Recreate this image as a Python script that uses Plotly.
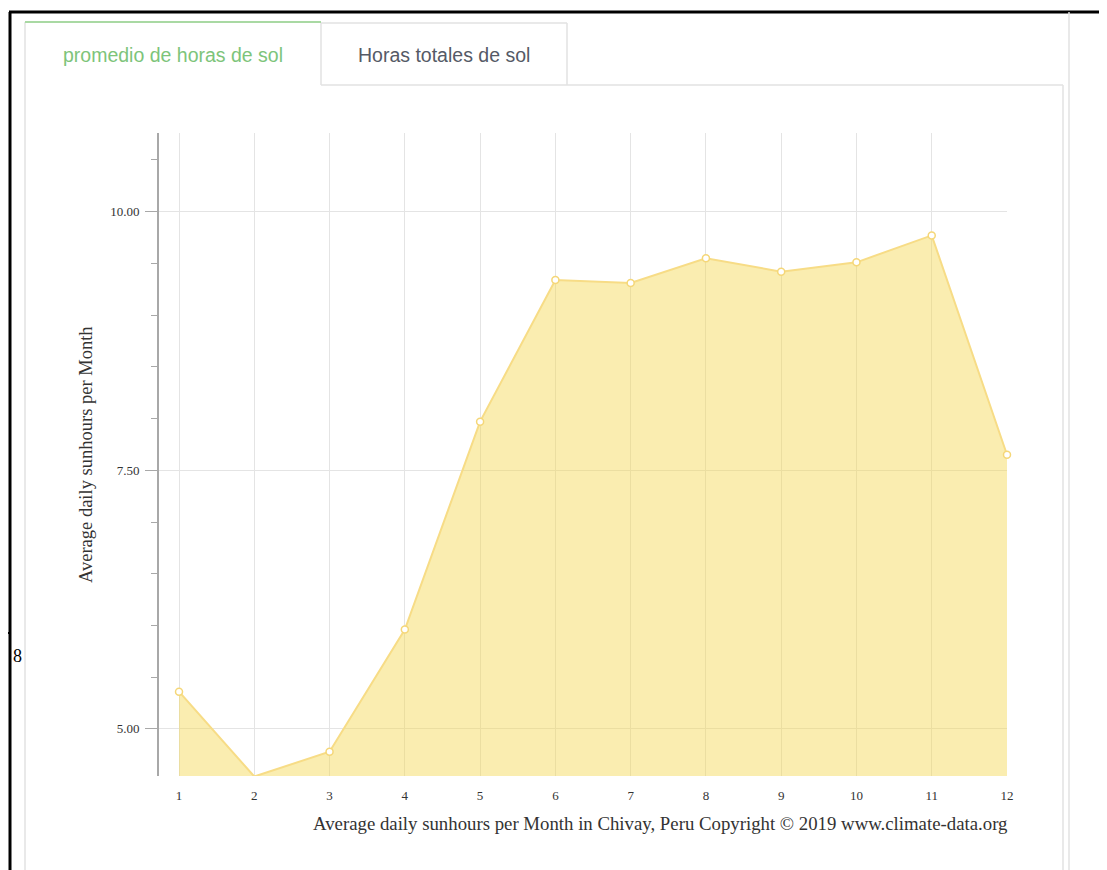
import plotly.graph_objects as go

months = [1, 2, 3, 4, 5, 6, 7, 8, 9, 10, 11, 12]
sunhours = [5.36, 4.54, 4.78, 5.96, 7.97, 9.34, 9.31, 9.55, 9.42, 9.51, 9.77, 7.65]
ytick_vals = [5.0, 7.5, 10.0]
ytick_text = ["5.00", "7.50", "10.00"]
tab_labels = ["promedio de horas de sol", "Horas totales de sol"]
y_title = "Average daily sunhours per Month"
x_title = "Average daily sunhours per Month in Chivay, Peru Copyright © 2019 www.climate-data.org"

OFF = 8  # page body margin
W, H = 1107 - OFF, 870 - OFF
L, R, T, B = 159 - OFF, 1007 - OFF, 133 - OFF, 776 - OFF


def px(x):
    return (x - OFF - L) / (R - L)


def py(y):
    return (B - (y - OFF)) / (B - T)


fig = go.Figure()
fig.add_trace(go.Scatter(
    x=months, y=sunhours, mode="lines+markers",
    fill="tozeroy", fillcolor="rgba(245,215,80,0.45)",
    line=dict(color="#f7dc86", width=2),
    marker=dict(size=7, color="white", line=dict(color="#f5d778", width=1.5)),
    hoverinfo="skip", showlegend=False, cliponaxis=False,
))

serif = "Liberation Serif, DejaVu Serif, serif"
fig.update_layout(
    width=W, height=H,
    margin=dict(l=L, r=W - R, t=T, b=H - B, pad=0),
    paper_bgcolor="white", plot_bgcolor="white",
    font=dict(family=serif, color="#333"),
    xaxis=dict(
        range=[0.734, 12.0], tickmode="array", tickvals=months,
        ticktext=[str(m) for m in months],
        showgrid=True, gridcolor="#e4e4e4", gridwidth=1,
        showline=False, zeroline=False, ticks="",
        tickfont=dict(family=serif, size=13, color="#333"),
        ticklabelstandoff=10,
    ),
    yaxis=dict(
        range=[4.545, 10.76], tickmode="array", tickvals=ytick_vals, ticktext=ytick_text,
        showgrid=True, gridcolor="#e4e4e4", gridwidth=1,
        showline=True, linecolor="#a8a8a8", linewidth=2, zeroline=False,
        ticks="outside", ticklen=12, tickcolor="#a8a8a8", tickwidth=1,
        minor=dict(tickmode="linear", tick0=0, dtick=0.5, ticks="outside", ticklen=6,
                   tickcolor="#a8a8a8", showgrid=False),
        tickfont=dict(family=serif, size=13, color="#333"),
        ticklabelstandoff=3,
    ),
)

gray = "#e2e2e2"
shapes = [
    # outer page black lines
    dict(x0=px(9), x1=px(1107), y0=py(12), y1=py(12), color="black", width=3),
    dict(x0=px(10), x1=px(10), y0=py(12), y1=py(870), color="black", width=3),
    dict(x0=px(8), x1=px(10), y0=py(633), y1=py(633), color="black", width=2),
    # panel borders
    dict(x0=px(25), x1=px(25), y0=py(22), y1=py(870), color=gray, width=1.5),
    dict(x0=px(25), x1=px(321), y0=py(22), y1=py(22), color="#a9d9a3", width=2),
    dict(x0=px(321), x1=px(321), y0=py(23), y1=py(85), color=gray, width=1.5),
    dict(x0=px(321), x1=px(567), y0=py(23), y1=py(23), color=gray, width=1.5),
    dict(x0=px(567), x1=px(567), y0=py(23), y1=py(85), color=gray, width=1.5),
    dict(x0=px(321), x1=px(1063), y0=py(85), y1=py(85), color=gray, width=1.5),
    dict(x0=px(1063), x1=px(1063), y0=py(85), y1=py(870), color=gray, width=1.5),
    dict(x0=px(1069), x1=px(1069), y0=py(12), y1=py(870), color=gray, width=1.5),
]
for s in shapes:
    fig.add_shape(type="line", xref="paper", yref="paper",
                  x0=s["x0"], x1=s["x1"], y0=s["y0"], y1=s["y1"],
                  line=dict(color=s["color"], width=s["width"]), layer="above")

sans = "Liberation Sans, Arial, sans-serif"
fig.add_annotation(x=px(173), y=py(55), xref="paper", yref="paper", text=tab_labels[0],
                   showarrow=False, xanchor="center", yanchor="middle",
                   font=dict(family=sans, size=19.5, color="#7dc47a"))
fig.add_annotation(x=px(444), y=py(55), xref="paper", yref="paper", text=tab_labels[1],
                   showarrow=False, xanchor="center", yanchor="middle",
                   font=dict(family=sans, size=19.5, color="#555a66"))
fig.add_annotation(x=px(86), y=py(455), xref="paper", yref="paper", text=y_title,
                   showarrow=False, textangle=-90, xanchor="center", yanchor="middle",
                   font=dict(family=serif, size=18.5, color="#333"))
fig.add_annotation(x=px(1010), y=py(823), xref="paper", yref="paper", text=x_title,
                   showarrow=False, xanchor="right", yanchor="middle",
                   font=dict(family=serif, size=18.8, color="#333"))
fig.add_annotation(x=px(11), y=py(656), xref="paper", yref="paper", text="8",
                   showarrow=False, xanchor="left", yanchor="middle",
                   font=dict(family=serif, size=18, color="black"))

fig.write_html("out.html")
